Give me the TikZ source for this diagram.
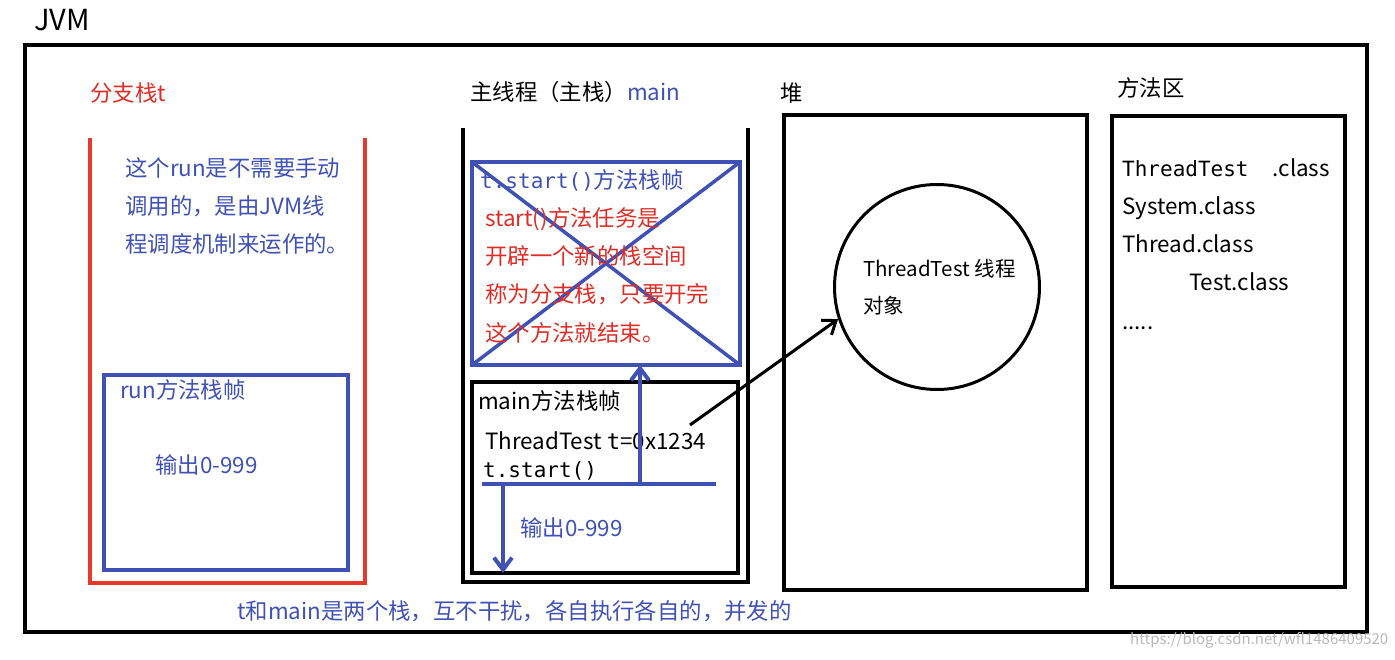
\documentclass[tikz,border=0pt]{standalone}
\usepackage{fontspec}
\setmainfont{Noto Sans CJK SC}
\setmonofont{DejaVu Sans Mono}
\usetikzlibrary{arrows.meta,calc,positioning}
\definecolor{StackBlue}{RGB}{63,81,181}
\definecolor{StackRed}{RGB}{229,57,45}
\definecolor{NoteRed}{RGB}{222,45,38}

\begin{document}
\begin{tikzpicture}[x=1pt, y=-1pt, >={Straight Barb[length=12pt,width=18pt]}]
    \tikzstyle{lbl}=[anchor=west, inner sep=0pt, font=\fontsize{22.4}{38}\selectfont]
    \tikzstyle{note}=[anchor=north west, inner sep=0pt, align=left, font=\fontsize{22.4}{38.3}\selectfont]
    \tikzstyle{frame}=[draw, line width=4pt, inner sep=0pt, outer sep=0pt, anchor=north west]
    \tikzstyle{stack}=[line width=4pt, line join=miter]
    \useasboundingbox (0,0) rectangle (1395,660);

    % JVM
    \node[lbl, font=\fontsize{29}{32}\selectfont] (jvmlabel) at (34,20) {JVM};
    \node[frame, minimum width=1342pt, minimum height=587pt] (jvm) at (25,45) {};

    % branch stack t
    \draw[stack, StackRed] (90,138) -- (90,583) -- (365,583) -- (365,138);
    \node[lbl, NoteRed] (branchlabel) at (90,93) {分支栈t};
    \node[note, StackBlue] (branchnote) at (125,157) {这个run是不需要手动\\调用的，是由JVM线\\程调度机制来运作的。};
    \node[frame, StackBlue, minimum width=244pt, minimum height=195pt] (runframe) at (104,375) {};
    \node[lbl, StackBlue] (runtitle) at (120,390) {run方法栈帧};
    \node[lbl, StackBlue] (runout) at (155,465) {输出0-999};

    % main stack
    \draw[stack] (463,128) -- (463,582) -- (748,582) -- (748,128);
    \node[lbl] (mainlabel) at (470,92) {主线程（主栈）{\color{StackBlue}main}};
    \node[frame, StackBlue, minimum width=268pt, minimum height=203pt] (startframe) at (472,162) {};
    \draw[line width=3.5pt, StackBlue] (startframe.north west) -- (startframe.south east);
    \draw[line width=3.5pt, StackBlue] (startframe.north east) -- (startframe.south west);
    \node[lbl, StackBlue] (starttitle) at (480,180) {{\ttfamily\fontsize{21}{24}\selectfont t.start()}方法栈帧};
    \node[note, NoteRed] (startnote) at (485,207) {start()方法任务是\\开辟一个新的栈空间\\称为分支栈，只要开完\\这个方法就结束。};
    \node[frame, minimum width=266pt, minimum height=191pt] (mainframe) at (472,382) {};
    \node[lbl] (maintitle) at (478,401) {main方法栈帧};
    \node[lbl] (maincode) at (485,441) {ThreadTest {\ttfamily t}=0x1234};
    \node[lbl, font=\ttfamily\fontsize{21}{24}\selectfont] (mainstart) at (483,471) {t.start()};
    \node[lbl, StackBlue] (mainout) at (520,528) {输出0-999};

    \coordinate (splitl) at (482,484);
    \coordinate (splitr) at (716,484);
    \coordinate (splitup) at (640,484);
    \coordinate (splitdown) at (503,484);
    \coordinate (ptr) at (690,425);
    \draw[line width=4pt, StackBlue] (splitl) -- (splitr);
    \draw[->, line width=4pt, StackBlue] (splitup) -- (splitup |- startframe.south);
    \draw[->, line width=4pt, StackBlue] (splitdown) -- (splitdown |- mainframe.south);

    % heap
    \node[lbl] (heaplabel) at (780,93) {堆};
    \node[frame, line width=3.5pt, minimum width=303pt, minimum height=475pt] (heap) at (784,115) {};
    \node[circle, draw, line width=3pt, minimum size=205pt, inner sep=0pt] (obj) at (937,287) {};
    \node[note, font=\fontsize{20.5}{37}\selectfont] (objtext) at (863,259) {ThreadTest 线程\\对象};
    \draw[->, line width=3pt] (ptr) -- (obj.198);

    % method area
    \node[lbl] (methodlabel) at (1117,88) {方法区};
    \node[frame, line width=3.5pt, minimum width=233pt, minimum height=471pt] (methodarea) at (1112,116) {};
    \node[note] (classlist) at (1122,158) {{\ttfamily\fontsize{21}{24}\selectfont ThreadTest}\hspace{24pt}.class\\System.class\\Thread.class\\\hspace*{67pt}Test.class\\.....};

    \node[lbl, StackBlue] (footnote) at (237,611) {t和main是两个栈，互不干扰，各自执行各自的，并发的};
    \node[lbl, gray!55, font=\fontsize{15}{17}\selectfont] (watermark) at (1130,640) {https://blog.csdn.net/wfl1486409520};
\end{tikzpicture}
\end{document}
